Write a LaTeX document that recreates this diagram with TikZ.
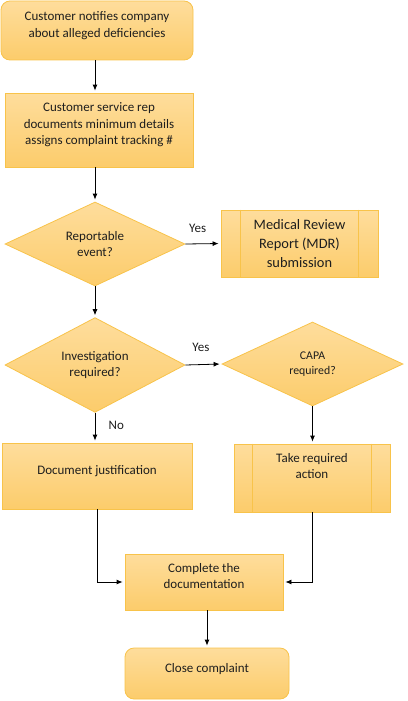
\documentclass[tikz,border=0pt]{standalone}
\usepackage{fontspec}
\setmainfont{Carlito}
\usetikzlibrary{shapes.geometric,arrows.meta}
\definecolor{boxtop}{HTML}{FEDD9C}
\definecolor{boxbot}{HTML}{FCCC6B}
\definecolor{boxline}{HTML}{F8C34A}
\definecolor{ink}{HTML}{1E1E1E}
\begin{document}
\begin{tikzpicture}[
        x=1pt, y=-1pt,
        every node/.style={font=\fontsize{13}{16.5}\selectfont, text=ink, align=center},
        base/.style={draw=boxline, line width=0.8pt, top color=boxtop, bottom color=boxbot, inner sep=0pt},
        box/.style={base, rectangle, text depth=12pt},
        rbox/.style={box, rounded corners=9pt},
        subproc/.style={base, rectangle},
        decision/.style={base, diamond},
        ar/.style={-{Latex[length=6pt,width=5pt]}, line width=0.8pt, shorten >=2pt},
        ln/.style={draw=boxline, line width=0.8pt},
    ]
    \useasboundingbox (0,0) rectangle (407,701);

    \node[rbox, minimum width=192pt, minimum height=59pt](notify) at (97,30.5)
        {Customer notifies company\\about alleged deficiencies};
    \node[box, minimum width=188pt, minimum height=74pt](logrep) at (99,130)
        {Customer service rep\\documents minimum details\\assigns complaint tracking \#};
    \node[decision, minimum width=180pt, minimum height=84pt](report) at (95,244)
        {Reportable\\event?};
    \node[subproc, minimum width=157pt, minimum height=67pt,
        font=\fontsize{14.4}{19.2}\selectfont](mdr) at (299.5,243.5)
        {Medical Review\\Report (MDR)\\submission};
    \node[decision, minimum width=180pt, minimum height=84pt](investig) at (95,365)
        {Investigation\\required?};
    \node[decision, minimum width=181pt, minimum height=84pt,
        font=\fontsize{11.8}{14.3}\selectfont](capa) at (312.5,364)
        {CAPA\\required?};
    \node[box, minimum width=190pt, minimum height=66pt](justify) at (97,476)
        {Document justification};
    \node[subproc, minimum width=156pt, minimum height=68pt, text depth=24pt](action) at (312,478)
        {Take required\\action};
    \node[box, minimum width=158pt, minimum height=56pt](complete) at (204,582)
        {Complete the\\documentation};
    \node[rbox, minimum width=164pt, minimum height=51pt](close) at (207,673.5)
        {Close complaint};

    % side bars of the sub-process boxes
    \draw[ln] ([xshift=20pt]mdr.north west) -- ([xshift=20pt]mdr.south west)
        ([xshift=-20pt]mdr.north east) -- ([xshift=-20pt]mdr.south east);
    \draw[ln] ([xshift=19pt]action.north west) -- ([xshift=19pt]action.south west)
        ([xshift=-19pt]action.north east) -- ([xshift=-19pt]action.south east);

    \draw[ar] (report |- notify.south) -- (report |- logrep.north);
    \draw[ar] (report |- logrep.south) -- (report.north);
    \draw[ar] (report.east) -- node[above=7pt, pos=0.35]{Yes} (mdr.west);
    \draw[ar] (report.south) -- (investig.north);
    \draw[ar] (investig.east) -- node[above=9pt, pos=0.43]{Yes} (capa.west);
    \draw[ar] (investig.south) -- node[right=10pt, pos=0.43]{No} (investig |- justify.north);
    \draw[ar] (capa.south) -- (capa |- action.north);
    \draw[ar] (justify.south) |- (complete.west);
    \draw[ar] (action.south) |- (complete.east);
    \draw[ar] (close |- complete.south) -- (close.north);
\end{tikzpicture}
\end{document}
